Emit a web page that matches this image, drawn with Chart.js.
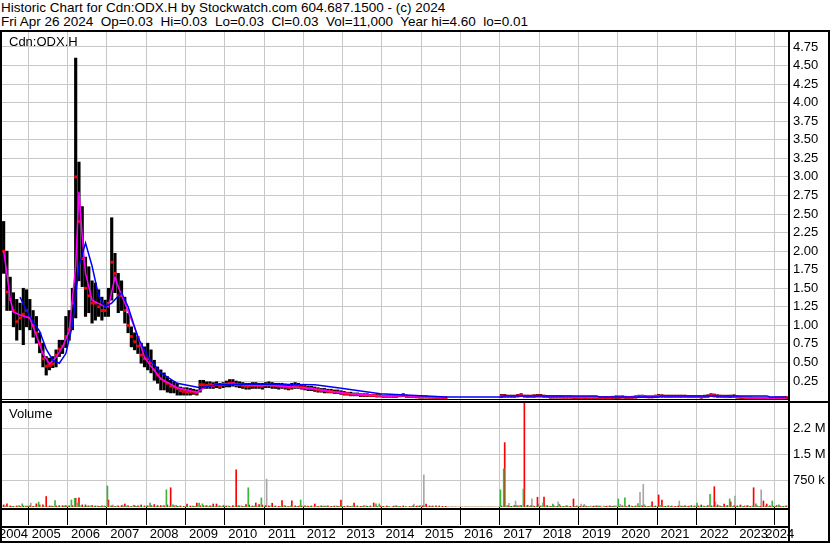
<!DOCTYPE html>
<html>
<head>
<meta charset="utf-8">
<script src="https://cdn.jsdelivr.net/npm/chart.js@4.4.1/dist/chart.umd.min.js"></script>
<style>
  body { margin: 0; background: #fff; }
  #wrap { position: relative; width: 830px; height: 543px; overflow: hidden;
          font-family: "Liberation Sans", Arial, sans-serif; font-size: 13px; color: #000; }
  .txt { position: absolute; white-space: pre; line-height: 15px; }
  .head { font-size: 13.5px; }
  canvas { position: absolute; left: 2px; }
  .ln { position: absolute; background: #000; }
</style>
</head>
<body>
<div id="wrap">
  <div class="txt head" style="left:1px;top:0px">Historic Chart for Cdn:ODX.H by Stockwatch.com 604.687.1500 - (c) 2024</div>
  <div class="txt head" style="left:1px;top:14px">Fri Apr 26 2024  Op=0.03  Hi=0.03  Lo=0.03  Cl=0.03  Vol=11,000  Year hi=4.60  lo=0.01</div>
  <canvas id="priceChart" width="826" height="369" style="top:32px"></canvas>
  <canvas id="volChart" width="826" height="141" style="top:402px"></canvas>
  <div class="txt" style="left:9px;top:34px">Cdn:ODX.H</div>
  <div class="txt" style="left:9px;top:406px">Volume</div>
  <!-- frame lines -->
  <div class="ln" style="left:0;top:30px;width:830px;height:2px"></div>
  <div class="ln" style="left:0;top:30px;width:2px;height:513px"></div>
  <div class="ln" style="left:828px;top:30px;width:2px;height:513px"></div>
  <div class="ln" style="left:788px;top:30px;width:2px;height:513px"></div>
  <div class="ln" style="left:0;top:399px;width:788px;height:1px"></div>
  <div class="ln" style="left:0;top:401px;width:830px;height:2px"></div>
  <div class="ln" style="left:0;top:508px;width:790px;height:2px"></div>
  <div class="ln" style="left:0;top:526px;width:790px;height:2px"></div>
  <div class="ln" style="left:0;top:541px;width:830px;height:2px"></div>
</div>
<script>
// Monthly price data, May 2004 .. Apr 2024 (null = no trading)
const priceHigh = [
  2.4, 2.0, 1.65, 1.44, 1.35, 1.3, 1.5, 1.48,                          // 2004 (May-Dec)
  1.35, 1.2, 1.12, 0.9, 0.76, 0.58, 0.56, 0.58, 0.67, 0.8, 0.8, 1.12,  // 2005
  1.2, 1.5, 4.6, 3.2, 2.6, 1.92, 1.79, 1.6, 1.57, 1.48, 1.38, 1.34,    // 2006
  1.5, 2.45, 1.97, 1.7, 1.6, 1.38, 1.16, 0.98, 0.9, 0.85, 0.76, 0.71,  // 2007
  0.76, 0.67, 0.53, 0.44, 0.4, 0.36, 0.31, 0.26, 0.24, 0.22, 0.17, 0.16, // 2008
  0.16, 0.15, 0.14, 0.13, 0.26, 0.26, 0.24, 0.24, 0.23, 0.24, 0.22, 0.23, // 2009
  0.25, 0.27, 0.27, 0.25, 0.24, 0.23, 0.22, 0.22, 0.23, 0.23, 0.22, 0.22, // 2010
  0.23, 0.24, 0.23, 0.22, 0.22, 0.22, 0.21, 0.2, 0.22, 0.23, 0.22, 0.2,   // 2011
  0.19, 0.18, 0.18, 0.17, 0.16, 0.15, 0.15, 0.14, 0.14, 0.13, 0.13, 0.12, // 2012
  0.11, 0.1, 0.1, 0.09, 0.09, 0.08, 0.08, 0.08, 0.07, 0.07, 0.07, 0.07,   // 2013
  0.06, 0.06, 0.06, 0.06, 0.06, 0.07, 0.08, 0.06, 0.05, 0.05, 0.05, 0.05, // 2014
  0.05, 0.05, 0.04, 0.04, 0.04, 0.04, 0.035, 0.035, null, null, null, null, // 2015
  null, null, null, null, null, null, null, null, null, null, null, null, // 2016
  0.07, 0.07, 0.06, 0.06, 0.06, 0.07, 0.08, 0.06, 0.06, 0.06, 0.065, 0.07, // 2017
  0.07, 0.06, 0.055, 0.05, 0.05, 0.055, 0.05, 0.05, 0.05, 0.05, 0.045, 0.045, // 2018
  0.04, 0.04, 0.04, 0.04, 0.045, 0.04, 0.04, 0.04, 0.04, 0.04, 0.045, 0.05, // 2019
  0.05, 0.05, 0.045, 0.04, 0.045, 0.05, 0.06, 0.06, 0.055, 0.05, 0.05, 0.06, // 2020
  0.07, 0.065, 0.06, 0.06, 0.06, 0.06, 0.06, 0.06, 0.06, 0.055, 0.055, 0.055, // 2021
  0.055, 0.05, 0.06, 0.065, 0.08, 0.075, 0.065, 0.06, 0.06, 0.06, 0.06, 0.065, // 2022
  0.05, 0.045, 0.04, 0.035, 0.035, 0.03, 0.03, 0.03, 0.03, 0.03, 0.03, 0.03, // 2023
  0.035, 0.035, 0.035, 0.035                                             // 2024 (Jan-Apr)
];
const priceLow = [
  1.7, 1.2, 1.2, 0.98, 0.8, 0.94, 0.74, 0.98,
  0.94, 0.84, 0.76, 0.63, 0.44, 0.33, 0.4, 0.43, 0.44, 0.58, 0.62, 0.7,
  0.8, 0.94, 1.1, 1.6, 1.52, 1.12, 1.17, 1.03, 1.07, 1.12, 1.07, 1.12,
  1.12, 1.34, 1.44, 1.17, 1.2, 1.03, 0.9, 0.71, 0.67, 0.62, 0.49, 0.44,
  0.4, 0.36, 0.26, 0.22, 0.13, 0.13, 0.1, 0.09, 0.09, 0.06, 0.06, 0.06,
  0.06, 0.06, 0.07, 0.06, 0.1, 0.15, 0.15, 0.15, 0.15, 0.16, 0.15, 0.16,
  0.17, 0.17, 0.18, 0.17, 0.16, 0.15, 0.14, 0.14, 0.15, 0.15, 0.15, 0.14,
  0.16, 0.16, 0.15, 0.15, 0.14, 0.15, 0.14, 0.13, 0.14, 0.15, 0.15, 0.14,
  0.13, 0.12, 0.12, 0.11, 0.1, 0.1, 0.09, 0.09, 0.09, 0.08, 0.08, 0.07,
  0.06, 0.06, 0.05, 0.05, 0.05, 0.04, 0.04, 0.04, 0.04, 0.04, 0.035, 0.035,
  0.03, 0.03, 0.03, 0.03, 0.03, 0.04, 0.04, 0.03, 0.03, 0.025, 0.025, 0.02,
  0.02, 0.02, 0.02, 0.02, 0.015, 0.015, 0.015, 0.015, null, null, null, null,
  null, null, null, null, null, null, null, null, null, null, null, null,
  0.03, 0.03, 0.03, 0.03, 0.03, 0.035, 0.04, 0.035, 0.03, 0.03, 0.03, 0.035,
  0.035, 0.03, 0.025, 0.02, 0.02, 0.02, 0.02, 0.02, 0.02, 0.02, 0.015, 0.015,
  0.015, 0.015, 0.01, 0.015, 0.015, 0.01, 0.015, 0.015, 0.01, 0.015, 0.015, 0.015,
  0.015, 0.02, 0.015, 0.015, 0.02, 0.02, 0.025, 0.03, 0.025, 0.025, 0.025, 0.03,
  0.035, 0.03, 0.03, 0.03, 0.03, 0.03, 0.03, 0.03, 0.03, 0.025, 0.025, 0.025,
  0.025, 0.02, 0.025, 0.03, 0.04, 0.035, 0.03, 0.03, 0.025, 0.025, 0.025, 0.03,
  0.02, 0.015, 0.01, 0.01, 0.01, 0.01, 0.01, 0.01, 0.01, 0.01, 0.01, 0.01,
  0.01, 0.01, 0.015, 0.015
];
const priceClose = [
  2.0, 1.45, 1.35, 1.2, 1.05, 1.1, 1.15, 1.2,
  1.1, 1.0, 0.9, 0.75, 0.55, 0.45, 0.46, 0.48, 0.6, 0.68, 0.72, 0.85,
  0.95, 1.3, 3.0, 2.4, 1.9, 1.5, 1.4, 1.3, 1.3, 1.25, 1.2, 1.2,
  1.3, 1.85, 1.7, 1.4, 1.4, 1.2, 1.0, 0.85, 0.78, 0.72, 0.6, 0.55,
  0.55, 0.5, 0.4, 0.33, 0.28, 0.25, 0.22, 0.18, 0.17, 0.15, 0.12, 0.11,
  0.1, 0.1, 0.1, 0.09, 0.2, 0.2, 0.19, 0.2, 0.19, 0.2, 0.18, 0.2,
  0.21, 0.22, 0.22, 0.2, 0.2, 0.19, 0.18, 0.18, 0.19, 0.19, 0.19, 0.18,
  0.2, 0.2, 0.19, 0.19, 0.18, 0.18, 0.17, 0.16, 0.17, 0.18, 0.18, 0.17,
  0.16, 0.15, 0.15, 0.14, 0.13, 0.12, 0.12, 0.11, 0.11, 0.1, 0.1, 0.09,
  0.08, 0.08, 0.07, 0.07, 0.07, 0.06, 0.06, 0.06, 0.055, 0.055, 0.05, 0.05,
  0.045, 0.045, 0.045, 0.04, 0.04, 0.05, 0.06, 0.045, 0.04, 0.04, 0.035, 0.035,
  0.035, 0.035, 0.03, 0.03, 0.03, 0.025, 0.025, 0.025, null, null, null, null,
  null, null, null, null, null, null, null, null, null, null, null, null,
  0.05, 0.05, 0.045, 0.045, 0.045, 0.05, 0.06, 0.045, 0.045, 0.045, 0.05, 0.05,
  0.05, 0.045, 0.04, 0.035, 0.035, 0.035, 0.035, 0.03, 0.03, 0.03, 0.03, 0.03,
  0.025, 0.025, 0.025, 0.025, 0.03, 0.025, 0.025, 0.025, 0.025, 0.025, 0.03, 0.035,
  0.03, 0.035, 0.03, 0.03, 0.03, 0.035, 0.04, 0.045, 0.04, 0.035, 0.035, 0.045,
  0.05, 0.05, 0.045, 0.045, 0.045, 0.045, 0.045, 0.045, 0.045, 0.04, 0.04, 0.04,
  0.04, 0.035, 0.04, 0.045, 0.06, 0.055, 0.045, 0.045, 0.04, 0.04, 0.045, 0.045,
  0.035, 0.03, 0.025, 0.02, 0.02, 0.02, 0.02, 0.02, 0.02, 0.02, 0.02, 0.02,
  0.02, 0.02, 0.025, 0.03
];

// Moving averages (month, value)
const maFastMonths = ['2004-05','2004-06','2004-07','2004-08','2004-10','2005-01','2005-02','2005-05','2005-07','2005-09',
  '2005-11','2006-01','2006-03','2006-04','2006-05','2006-06','2006-08','2006-12','2007-01','2007-03',
  '2007-04','2007-06','2007-08','2007-10','2007-12','2008-02','2008-05','2008-10','2009-04','2009-07',
  '2009-10','2010-03','2010-09','2011-03','2011-09','2012-03','2012-09','2013-03','2013-09','2014-03',
  '2014-07','2014-12','2015-08','2016-06','2017-01','2017-07','2018-01','2018-07','2019-01','2019-07',
  '2020-01','2020-08','2021-01','2021-07','2022-01','2022-05','2022-12','2023-04','2023-12','2024-04'];
const maFastValues = [2.0, 1.7, 1.35, 1.18, 1.14, 1.1, 0.98, 0.62, 0.48, 0.57,
  0.71, 0.92, 1.8, 2.8, 2.2, 1.7, 1.34, 1.25, 1.25, 1.65,
  1.52, 1.3, 1.08, 0.85, 0.57, 0.45, 0.28, 0.16, 0.1, 0.18,
  0.2, 0.22, 0.19, 0.19, 0.17, 0.15, 0.11, 0.08, 0.06, 0.045,
  0.055, 0.035, 0.025, null, 0.045, 0.055, 0.05, 0.04, 0.035, 0.03,
  0.03, 0.045, 0.05, 0.045, 0.04, 0.055, 0.045, 0.025, 0.02, 0.025];

const maSlowMonths = ['2004-10','2004-12','2005-02','2005-04','2005-06','2005-08','2005-10','2005-12','2006-02','2006-04',
  '2006-06','2006-08','2006-10','2006-12','2007-02','2007-05','2007-07','2007-10','2008-01','2008-05',
  '2008-10','2009-05','2009-10','2010-08','2012-04','2012-11','2013-12','2015-05','2015-08','2017-01',
  '2017-02','2019-06','2019-07','2021-01','2021-02','2023-10','2023-11','2024-04'];
const maSlowValues = [1.38, 1.2, 1.05, 0.92, 0.68, 0.53, 0.49, 0.62, 1.0, 1.8,
  2.11, 1.8, 1.4, 1.25, 1.3, 1.44, 1.25, 0.84, 0.58, 0.36,
  0.22, 0.16, 0.2, 0.21, 0.2, 0.16, 0.08, 0.04, 0.035, 0.035,
  0.05, 0.05, 0.035, 0.035, 0.05, 0.05, 0.035, 0.035];

// Monthly volume (thousands of shares) by day type
const volUp = [
  0, 30, 0, 20, 0, 40, 90, 30,
  20, 0, 30, 140, 0, 20, 0, 30, 180, 20, 0, 30,
  20, 200, 250, 120, 40, 20, 30, 30, 20, 30, 20, 30,
  600, 30, 20, 30, 0, 20, 30, 20, 50, 20, 30, 0,
  30, 110, 30, 20, 0, 30, 490, 20, 60, 50, 20, 0,
  20, 0, 30, 20, 110, 90, 30, 20, 30, 20, 30, 20,
  20, 30, 0, 20, 40, 30, 20, 550, 20, 30, 20, 260,
  20, 0, 30, 20, 0, 20, 40, 20, 30, 0, 20, 200,
  20, 30, 20, 0, 20, 30, 30, 20, 0, 20, 30, 20,
  20, 0, 20, 30, 20, 0, 20, 30, 20, 0, 90, 90,
  20, 0, 20, 0, 30, 20, 0, 20, 0, 20, 0, 20,
  0, 20, 0, 20, 0, 0, 0, 0, 0, 0, 0, 0,
  0, 0, 0, 0, 0, 0, 0, 0, 0, 0, 0, 0,
  490, 1090, 30, 20, 30, 40, 50, 510, 30, 20, 30, 20,
  20, 110, 30, 20, 80, 20, 80, 20, 30, 20, 0, 20,
  20, 0, 30, 20, 0, 20, 30, 0, 20, 0, 20, 30,
  230, 30, 260, 20, 30, 20, 100, 30, 60, 20, 30, 20,
  20, 40, 20, 30, 20, 0, 20, 30, 20, 0, 20, 20,
  115, 20, 30, 20, 360, 30, 20, 30, 20, 30, 230, 20,
  20, 30, 20, 0, 20, 30, 90, 20, 0, 30, 20, 170,
  20, 60, 20, 30
];
const volDown = [
  60, 90, 30, 20, 30, 20, 30, 20,
  30, 20, 90, 60, 60, 300, 30, 20, 30, 40, 40, 40,
  30, 40, 250, 260, 60, 60, 30, 40, 30, 20, 30, 20,
  200, 30, 20, 30, 40, 86, 30, 20, 40, 30, 58, 30,
  30, 40, 70, 40, 40, 30, 58, 550, 30, 20, 30, 20,
  86, 30, 20, 115, 30, 40, 40, 30, 86, 86, 30, 30,
  30, 20, 40, 1065, 30, 20, 70, 58, 30, 115, 70, 58,
  40, 30, 107, 30, 20, 180, 30, 20, 175, 30, 20, 30,
  30, 20, 30, 86, 20, 30, 20, 30, 20, 30, 20, 200,
  20, 30, 20, 115, 30, 20, 30, 20, 30, 115, 20, 30,
  20, 30, 0, 20, 30, 20, 30, 0, 20, 30, 20, 30,
  30, 86, 30, 30, 30, 30, 20, 20, 0, 0, 0, 0,
  0, 0, 0, 0, 0, 0, 0, 0, 0, 0, 0, 0,
  30, 1840, 30, 20, 40, 30, 40, 2970, 50, 30, 20, 280,
  30, 280, 40, 20, 30, 20, 30, 20, 30, 20, 230, 30,
  20, 30, 20, 0, 20, 30, 20, 0, 20, 30, 20, 0,
  20, 30, 20, 58, 20, 30, 20, 30, 20, 20, 145, 30,
  345, 200, 20, 30, 30, 20, 30, 20, 30, 20, 40, 30,
  30, 58, 20, 40, 30, 580, 58, 20, 86, 40, 145, 30,
  30, 58, 20, 30, 20, 550, 30, 20, 173, 86, 30, 20,
  40, 30, 20, 30
];
const volFlat = [
  0, 0, 20, 0, 0, 0, 0, 30,
  115, 0, 0, 0, 0, 0, 20, 0, 0, 0, 20, 0,
  0, 0, 0, 0, 0, 20, 0, 0, 0, 20, 0, 0,
  0, 58, 0, 0, 58, 0, 0, 0, 20, 0, 0, 0,
  0, 0, 0, 20, 0, 0, 0, 0, 0, 20, 0, 0,
  0, 0, 20, 0, 0, 0, 0, 20, 0, 0, 0, 58,
  0, 0, 0, 20, 0, 0, 0, 0, 20, 0, 0, 0,
  800, 0, 0, 0, 20, 0, 0, 0, 0, 20, 40, 0,
  0, 0, 0, 0, 0, 20, 30, 0, 0, 0, 20, 0,
  0, 20, 0, 0, 0, 20, 0, 0, 0, 0, 0, 0,
  0, 0, 0, 30, 0, 0, 0, 0, 0, 86, 40, 40,
  920, 0, 20, 0, 0, 0, 0, 0, 0, 0, 0, 0,
  0, 0, 0, 0, 0, 0, 0, 0, 0, 0, 0, 0,
  0, 0, 103, 0, 170, 0, 0, 0, 0, 230, 0, 86,
  0, 0, 0, 20, 0, 150, 0, 0, 0, 0, 20, 0,
  80, 80, 0, 30, 30, 30, 30, 30, 30, 30, 30, 30,
  80, 0, 0, 0, 0, 0, 420, 650, 0, 0, 20, 0,
  30, 0, 0, 0, 0, 0, 173, 30, 30, 30, 0, 0,
  0, 0, 0, 0, 0, 145, 0, 0, 0, 0, 0, 310,
  0, 0, 40, 40, 0, 0, 0, 490, 0, 0, 0, 0,
  0, 0, 0, 0
];

const priceTicks = [0.25, 0.5, 0.75, 1.0, 1.25, 1.5, 1.75, 2.0, 2.25, 2.5,
  2.75, 3.0, 3.25, 3.5, 3.75, 4.0, 4.25, 4.5, 4.75];
const volTicks = [750, 1500, 2250];
const volTickLabels = ['750 k', '1.5 M', '2.2 M'];

// month categories
const months = [];
for (let y = 2004; y <= 2024; y++) {
  for (let m = 1; m <= 12; m++) {
    if ((y === 2004 && m < 5) || (y === 2024 && m > 4)) continue;
    months.push(y + '-' + String(m).padStart(2, '0'));
  }
}

// year label goes under the middle of the visible months of that year
const yearLabelAt = new Set();
const byYear = {};
months.forEach((mo, i) => { (byYear[mo.slice(0, 4)] = byYear[mo.slice(0, 4)] || []).push(i); });
Object.values(byYear).forEach(idx => yearLabelAt.add(idx[Math.floor((idx.length - 1) / 2)]));

const isYearStart = i => !!months[i] && months[i].endsWith('-01');
const gridGray = '#c8c8c8';

Chart.defaults.font.family = '"Liberation Sans", Arial, sans-serif';
Chart.defaults.font.size = 13;
Chart.defaults.color = '#000';

const pairs = (ms, vs) => ms.map((m, i) => ({ x: m, y: vs[i] }));

// keep the plot area exactly where the canvas is, no label padding
const fitY = s => { s.width = 40; s.paddingTop = 0; s.paddingBottom = 0; };
const fitX = h => s => { s.height = h; s.paddingLeft = 0; s.paddingRight = 0; };

new Chart(document.getElementById('priceChart'), {
  type: 'bar',
  data: {
    labels: months,
    datasets: [
      { type: 'line', data: pairs(maSlowMonths, maSlowValues), borderColor: '#0000ff', borderWidth: 1.5, pointRadius: 0, order: 1 },
      { type: 'line', data: pairs(maFastMonths, maFastValues), borderColor: '#ff00ff', borderWidth: 1.5, pointRadius: 0, order: 2 },
      { type: 'line', data: priceClose, showLine: false, pointStyle: 'rect', pointRadius: 2,
        pointBackgroundColor: '#ff0000', pointBorderWidth: 0, order: 3 },
      { type: 'bar', data: priceHigh.map((h, i) => h == null ? null : [priceLow[i], h]),
        backgroundColor: '#000', barThickness: 2.5, order: 4 }
    ]
  },
  options: {
    responsive: false,
    animation: false,
    devicePixelRatio: 1,
    layout: { padding: 0, autoPadding: false },
    plugins: { legend: { display: false }, tooltip: { enabled: false } },
    scales: {
      x: {
        grid: { color: c => isYearStart(c.index) ? gridGray : 'transparent', drawTicks: false },
        ticks: { display: false },
        border: { display: false },
        afterFit: fitX(0)
      },
      y: {
        position: 'right',
        min: -0.019,
        max: 4.952,
        afterBuildTicks: s => { s.ticks = priceTicks.map(v => ({ value: v })); },
        ticks: { callback: v => v.toFixed(2), padding: 5 },
        grid: { color: gridGray, drawTicks: false },
        border: { display: false },
        afterFit: fitY
      }
    }
  }
});

new Chart(document.getElementById('volChart'), {
  type: 'bar',
  data: {
    labels: months,
    datasets: [
      { data: volUp, backgroundColor: '#3cb43c', barThickness: 1 },
      { data: volDown, backgroundColor: '#ff0000', barThickness: 1 },
      { data: volFlat, backgroundColor: '#a8a8a8', barThickness: 1 }
    ]
  },
  options: {
    responsive: false,
    animation: false,
    devicePixelRatio: 1,
    layout: { padding: 0, autoPadding: false },
    plugins: { legend: { display: false }, tooltip: { enabled: false } },
    scales: {
      x: {
        grid: {
          color: c => isYearStart(c.index) ? gridGray : 'transparent',
          tickColor: c => isYearStart(c.index) ? '#000' : 'transparent',
          tickLength: 18
        },
        ticks: {
          autoSkip: false, maxRotation: 0, minRotation: 0, padding: 2,
          callback: (v, i) => yearLabelAt.has(i) ? months[i].slice(0, 4) : ''
        },
        border: { display: false },
        afterFit: fitX(36)
      },
      y: {
        position: 'right',
        min: 0,
        max: 3000,
        afterBuildTicks: s => { s.ticks = volTicks.map(v => ({ value: v })); },
        ticks: { callback: v => volTickLabels[volTicks.indexOf(v)], padding: 5 },
        grid: { color: gridGray, drawTicks: false },
        border: { display: false },
        afterFit: fitY
      }
    }
  }
});
</script>
</body>
</html>
